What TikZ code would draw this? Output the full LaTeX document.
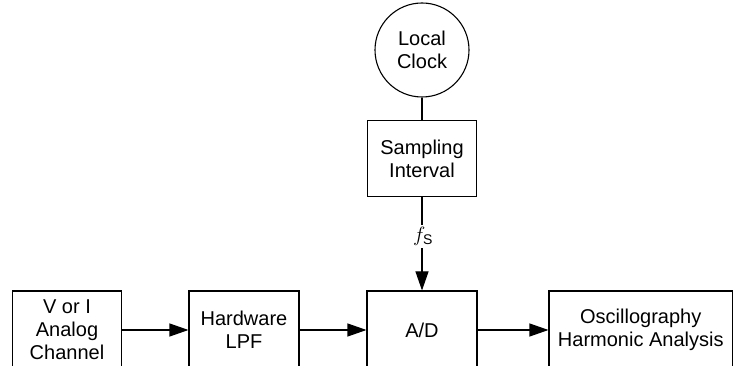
\documentclass[tikz,border=0pt]{standalone}
\usepackage{amsmath}
\usepackage{fontspec}
\setmainfont{Liberation Sans}
\usetikzlibrary{arrows.meta}
\tikzset{
  blk/.style={draw, minimum width=110pt, minimum height=78pt, align=center, inner sep=0pt},
  clk/.style={draw, circle, minimum size=94pt, align=center, inner sep=0pt},
}
\begin{document}
\begin{tikzpicture}[x=1pt,y=1pt,>={Triangle[length=19pt,width=13pt]},font=\fontsize{20}{23}\selectfont,line width=1.1pt]
            \useasboundingbox (0,0) rectangle (733,366);
            \clip (0,0) rectangle (733,366);
            % clock branch
            \node[clk] (clock) at (422,316) {Local\\Clock};
            \node[blk,minimum width=109pt,minimum height=76pt] (interval) at (422,207.3) {Sampling\\Interval};
            % signal chain
            \node[blk,minimum width=109pt] (chan) at (67,36) {V or I\\Analog\\Channel};
            \node[blk] (lpf) at (244,36) {Hardware\\LPF};
            \node[blk] (ad) at (422,36) {A/D};
            \node[blk,minimum width=183.5pt] (osc) at (640.75,36) {Oscillography\\Harmonic Analysis};
            \draw (clock)--(interval);
            \draw[->] (interval)--(ad) node[pos=.42,fill=white,inner sep=2pt,xshift=1pt]{$f_{\text{S}}$};
            \draw[->] (chan)--(lpf);
            \draw[->] (lpf)--(ad);
            \draw[->] (ad)--(osc);
        \end{tikzpicture}
\end{document}
